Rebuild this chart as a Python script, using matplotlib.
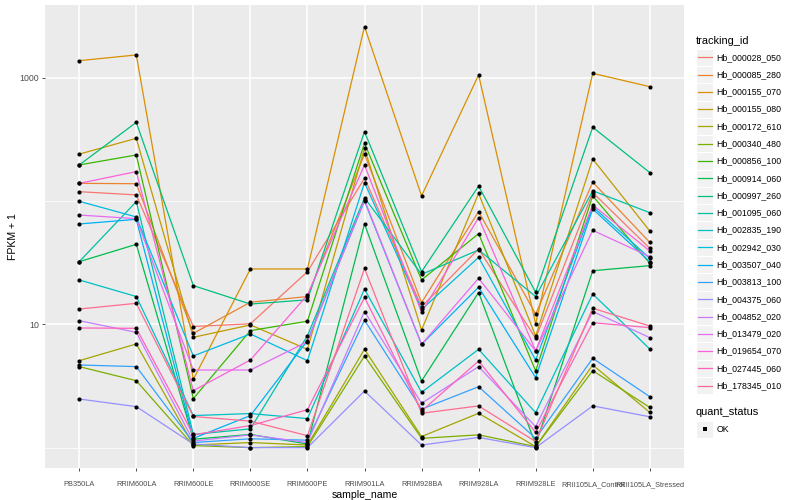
import matplotlib
matplotlib.use("Agg")
import matplotlib.pyplot as plt
from matplotlib.patches import Rectangle
from matplotlib.ticker import FixedLocator, NullFormatter
import numpy as np

plt.rcParams['font.family'] = ['Liberation Sans', 'DejaVu Sans']

samples = ["PB350LA", "RRIM600LA", "RRIM600LE", "RRIM600SE", "RRIM600PE",
           "RRIM901LA", "RRIM928BA", "RRIM928LA", "RRIM928LE",
           "RRII105LA_Control", "RRII105LA_Stressed"]

tracking_ids = ["Hb_000028_050", "Hb_000085_280", "Hb_000155_070", "Hb_000155_080",
                "Hb_000172_610", "Hb_000340_480", "Hb_000856_100", "Hb_000914_060",
                "Hb_000997_260", "Hb_001095_060", "Hb_002835_190", "Hb_002942_030",
                "Hb_003507_040", "Hb_003813_100", "Hb_004375_060", "Hb_004852_020",
                "Hb_013479_020", "Hb_019654_070", "Hb_027445_060", "Hb_178345_010"]

colors = ["#F8766D", "#EA8331", "#D89000", "#C09B00", "#A3A500", "#7CAE00", "#39B600",
          "#00BB4E", "#00BF7D", "#00C1A3", "#00BFC4", "#00BAE0", "#00B0F6", "#35A2FF",
          "#9590FF", "#C77CFF", "#E76BF3", "#FA62DB", "#FF62BC", "#FF6C91"]

# FPKM + 1 per sample (order of `samples`)
hb_000028_050 = [119, 112, 9.6, 10.1, 26.7, 153, 13.9, 40.8, 7.7, 117, 41.3]
hb_000085_280 = [139, 138, 8.45, 15.1, 16.8, 240, 15.0, 82, 12.1, 142, 46.2]
hb_000155_070 = [1373, 1528, 3.58, 28.1, 28.1, 2594, 110, 1051, 10.1, 1084, 845]
hb_000155_080 = [240, 322, 7.85, 9.88, 6.27, 267, 9.0, 115, 8.04, 219, 57.1]
hb_000172_610 = [5.07, 6.93, 1.05, 1.10, 1.05, 6.27, 1.23, 1.90, 1.02, 4.68, 1.93]
hb_000340_480 = [4.54, 3.49, 1.04, 1.0, 1.02, 5.54, 1.19, 1.27, 1.02, 4.21, 2.12]
hb_000856_100 = [196, 236, 2.50, 8.89, 10.6, 294, 22.9, 54.3, 4.19, 110, 31.2]
hb_000914_060 = [32.2, 44.5, 1.17, 1.28, 1.07, 65.1, 3.47, 18.1, 1.06, 27.2, 29.9]
hb_000997_260 = [196, 434, 20.6, 14.6, 15.8, 365, 26.7, 132, 18.2, 396, 170]
hb_001095_060 = [32.2, 98.8, 1.28, 1.42, 8.09, 106, 25.4, 40.1, 16.8, 121, 80.4]
hb_002835_190 = [22.9, 16.8, 1.82, 1.89, 1.72, 19.3, 2.81, 6.27, 1.92, 17.6, 6.31]
hb_002942_030 = [99.4, 74.2, 5.54, 8.35, 5.07, 141, 13.2, 34.9, 5.14, 90, 34.3]
hb_003507_040 = [65.1, 71, 1.19, 1.82, 7.38, 100, 6.88, 20, 3.70, 86.1, 32.2]
hb_003813_100 = [4.68, 4.54, 1.10, 1.18, 1.15, 10.8, 2.05, 3.12, 1.19, 5.30, 2.59]
hb_004375_060 = [2.48, 2.15, 1.07, 1.0, 1.0, 2.88, 1.05, 1.21, 1.0, 2.18, 1.78]
hb_004852_020 = [10.7, 8.61, 1.13, 1.27, 1.10, 12.7, 2.29, 4.54, 1.48, 12.7, 7.8]
hb_013479_020 = [76.9, 71.9, 4.26, 4.26, 7.23, 102, 6.88, 23.6, 6.08, 57.8, 35.4]
hb_019654_070 = [139, 173, 2.90, 5.14, 17.3, 196, 12.5, 73.3, 6.08, 92.9, 39.3]
hb_027445_060 = [9.34, 9.28, 1.27, 1.51, 2.03, 16.5, 1.98, 5.04, 1.33, 10.3, 9.4]
hb_178345_010 = [13.3, 14.8, 1.79, 1.64, 1.25, 28.4, 1.90, 2.18, 1.12, 13.5, 9.69]

series = [hb_000028_050, hb_000085_280, hb_000155_070, hb_000155_080, hb_000172_610,
          hb_000340_480, hb_000856_100, hb_000914_060, hb_000997_260, hb_001095_060,
          hb_002835_190, hb_002942_030, hb_003507_040, hb_003813_100, hb_004375_060,
          hb_004852_020, hb_013479_020, hb_019654_070, hb_027445_060, hb_178345_010]

quant_status = ["OK"]

W, H = 800, 500
fig = plt.figure(figsize=(8, 5), dpi=100)
fig.patch.set_facecolor("white")

# panel in pixel coords: left 45, right 684, top 5, bottom 468
ax = fig.add_axes([45 / W, (H - 468) / H, (684 - 45) / W, (468 - 5) / H])
ax.set_facecolor("#EBEBEB")
ax.set_yscale("log")

x = np.arange(len(samples))
for vals, col in zip(series, colors):
    ax.plot(x, vals, color=col, lw=0.9, zorder=3, solid_capstyle="round")
for vals in series:
    ax.scatter(x, vals, s=9, color="black", zorder=4, linewidths=0)

ax.set_xlim(-0.6, len(samples) - 0.4)
ax.set_ylim(10 ** -0.165, 10 ** 3.589)

ax.set_xticks(x)
ax.set_xticklabels(samples, fontsize=5.3, color="#4D4D4D")
ax.yaxis.set_major_locator(FixedLocator([10, 1000]))
ax.set_yticklabels(["10", "1000"], fontsize=6.3, color="#4D4D4D")
ax.yaxis.set_minor_locator(FixedLocator([1, 100]))
ax.yaxis.set_minor_formatter(NullFormatter())
ax.tick_params(axis="both", which="major", length=2.5, width=0.6, color="#333333", pad=2)
ax.tick_params(axis="x", which="major", pad=7)
ax.tick_params(which="minor", length=0)
ax.grid(which="major", color="white", lw=1.1)
ax.grid(which="minor", axis="y", color="white", lw=0.55)
ax.set_axisbelow(True)
for s in ax.spines.values():
    s.set_visible(False)

ax.set_xlabel("sample_name", fontsize=7.6, color="black", labelpad=1.5)
ax.set_ylabel("FPKM + 1", fontsize=7.6, color="black", labelpad=1)

# legend drawn in pixel coordinates
lax = fig.add_axes([0, 0, 1, 1], zorder=-1)
lax.set_xlim(0, W)
lax.set_ylim(H, 0)
lax.axis("off")

lax.text(696, 40.7, "tracking_id", fontsize=7.9, va="center", ha="left")
key_h = 17.28
y0 = 57.3
for i, (tid, col) in enumerate(zip(tracking_ids, colors)):
    yc = y0 + key_h * i
    lax.add_patch(Rectangle((696, yc - key_h / 2), 17.3, key_h, facecolor="#F2F2F2",
                            edgecolor="white", lw=0.8))
    lax.plot([698, 711.5], [yc, yc], color=col, lw=0.9)
    lax.text(716.5, yc, tid, fontsize=6.3, va="center", ha="left")

lax.text(696, 412, "quant_status", fontsize=7.9, va="center", ha="left")
yc = 429.3
lax.add_patch(Rectangle((696, yc - key_h / 2), 17.3, key_h, facecolor="#F2F2F2",
                        edgecolor="white", lw=0.8))
lax.scatter([704.6], [yc], s=9, color="black", marker="s", linewidths=0)
lax.text(716.5, yc, quant_status[0], fontsize=6.3, va="center", ha="left")

fig.savefig("out.png", dpi=100)
